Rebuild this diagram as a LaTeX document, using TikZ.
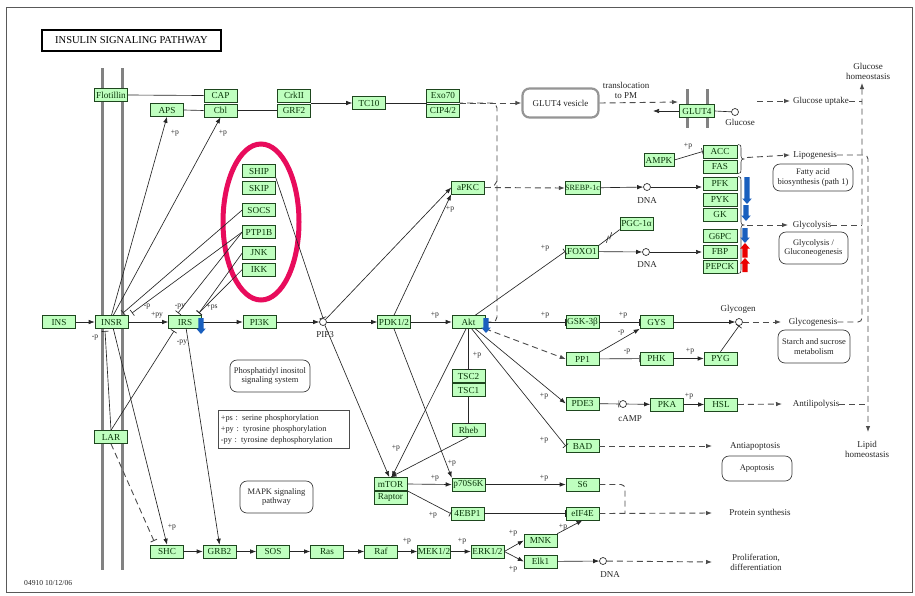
\documentclass[tikz,border=0pt]{standalone}
\usepackage{fontspec}
\setmainfont{Liberation Serif}
\usetikzlibrary{arrows.meta,calc}
\definecolor{kgfill}{RGB}{191,255,191}
\definecolor{kgline}{RGB}{30,70,30}
\definecolor{kgtext}{RGB}{10,55,10}
\definecolor{kgpink}{RGB}{232,12,92}
\definecolor{kgblue}{RGB}{25,95,190}
\definecolor{kgred}{RGB}{235,0,0}
\definecolor{kggray}{RGB}{130,130,130}
\newcommand{\kgG}{\fontsize{9.2}{10}\selectfont}
\newcommand{\kgS}{\fontsize{7.6}{8}\selectfont}
\newcommand{\kgT}{\fontsize{9}{10}\selectfont}
\newcommand{\kgM}{\fontsize{8.5}{9.8}\selectfont}
\newcommand{\kgFatDown}[3]{\fill[kgblue] (#1-2.6,#2) -- (#1+2.6,#2) -- (#1+2.6,#3-5.5) -- (#1+4.8,#3-5.5) -- (#1,#3) -- (#1-4.8,#3-5.5) -- (#1-2.6,#3-5.5) -- cycle;}
\newcommand{\kgFatUp}[3]{\fill[kgred] (#1,#2) -- (#1+4.8,#2+5.5) -- (#1+2.6,#2+5.5) -- (#1+2.6,#3) -- (#1-2.6,#3) -- (#1-2.6,#2+5.5) -- (#1-4.8,#2+5.5) -- cycle;}
\newcommand{\kgBrace}[3]{\draw[line width=0.6pt, black!80] (#1,#2) .. controls (#1+3,#2) and (#1+3,#2+1) .. (#1+3,#2+4) -- (#1+3,{(#2+#3)/2-3}) .. controls (#1+3,{(#2+#3)/2-1}) and (#1+4,{(#2+#3)/2}) .. (#1+6,{(#2+#3)/2}) .. controls (#1+4,{(#2+#3)/2}) and (#1+3,{(#2+#3)/2+1}) .. (#1+3,{(#2+#3)/2+3}) -- (#1+3,#3-4) .. controls (#1+3,#3-1) and (#1+3,#3) .. (#1,#3);}
\begin{document}
\begin{tikzpicture}[x=1pt,y=-1pt,
  gene/.style={draw=kgline, line width=0.6pt, fill=kgfill, text=kgtext, minimum width=33pt, minimum height=13pt, inner sep=0pt, font=\kgG},
  mapbox/.style={draw=black!75, line width=0.7pt, rounded corners=7pt, align=center, font=\kgM, inner sep=0pt, text=black!85},
  txt/.style={font=\kgT, align=center, inner sep=0pt, text=black!85},
  plab/.style={font=\kgS, inner sep=0pt, text=black!85},
  cpd/.style={circle, draw=black!80, line width=0.7pt, minimum size=7pt, inner sep=0pt, fill=white},
  ln/.style={draw=black!85, line width=0.65pt},
  act/.style={ln, -{Latex[length=6pt,width=4.5pt]}},
  inh/.style={ln, -{Bar[width=7pt]}},
  dsh/.style={draw=black!70, line width=0.9pt, dash pattern=on 6pt off 4pt},
  dact/.style={dsh, -{Latex[length=6pt,width=4.5pt]}},
  dinh/.style={dsh, -{Bar[width=7pt]}},
  memb/.style={draw=kggray, line width=3pt}]
\useasboundingbox (0,0) rectangle (915,595);
\fill[white] (0,0) rectangle (915,595);
\draw[black!65, line width=0.8pt] (6,7) rectangle (912,592);

% title
\node[draw=black, line width=1.3pt, minimum width=179pt, minimum height=21pt, inner sep=0pt, font=\fontsize{10.5}{11}\selectfont] (title) at (131.5,40.5) {INSULIN SIGNALING PATHWAY};

% membranes
\draw[memb] (102,68) -- (102,570);
\draw[memb] (122,68) -- (122,570);
\draw[memb] (687,89) -- (687,128);
\draw[memb] (707,89) -- (707,128);

% pink ellipse
\draw[kgpink, line width=5pt] (261,222) ellipse [x radius=38pt, y radius=78pt];

% genes
\node[gene] (flot) at (111,95) {Flotillin};
\node[gene] (aps) at (167,110) {APS};
\node[gene] (cap) at (220.5,95.5) {CAP};
\node[gene] (cbl) at (220.5,110.5) {Cbl};
\node[gene] (crk) at (294,95.5) {CrkII};
\node[gene] (grf) at (294,110.5) {GRF2};
\node[gene] (tc10) at (369,103) {TC10};
\node[gene] (exo) at (443,95.5) {Exo70};
\node[gene] (cip) at (443,110.5) {CIP4/2};
\node[gene, minimum width=35pt] (glut) at (697,111) {GLUT4};
\node[gene] (ship) at (259,171) {SHIP};
\node[gene] (skip) at (259,188) {SKIP};
\node[gene] (socs) at (259,210) {SOCS};
\node[gene] (ptp) at (259,232) {PTP1B};
\node[gene] (jnk) at (259,253) {JNK};
\node[gene] (ikk) at (259,269.5) {IKK};
\node[gene] (apkc) at (468,187.5) {aPKC};
\node[gene, font=\fontsize{8}{8.5}\selectfont] (srebp) at (582.5,188) {SREBP-1c};
\node[gene, minimum width=30pt] (ampk) at (659,160) {AMPK};
\node[gene, minimum width=34pt] (acc) at (720,151.5) {ACC};
\node[gene, minimum width=34pt] (fas) at (720,166.5) {FAS};
\node[gene, minimum width=34pt] (pfk) at (720,183.5) {PFK};
\node[gene, minimum width=34pt] (pyk) at (720,199.5) {PYK};
\node[gene, minimum width=34pt] (gk) at (720,214.5) {GK};
\node[gene, minimum width=34pt] (g6pc) at (720,236) {G6PC};
\node[gene, minimum width=34pt] (fbp) at (720,251.5) {FBP};
\node[gene, minimum width=34pt] (pepck) at (720,266.5) {PEPCK};
\node[gene] (pgc) at (636.5,223.5) {PGC-1α};
\node[gene] (foxo) at (582,251.5) {FOXO1};
\node[gene] (ins) at (59,322) {INS};
\node[gene] (insr) at (111.5,322) {INSR};
\node[gene] (irs) at (185,322) {IRS};
\node[gene] (pi3k) at (259.5,322) {PI3K};
\node[gene] (pdk) at (394,322) {PDK1/2};
\node[gene] (akt) at (468.5,322) {Akt};
\node[gene] (gsk) at (582.5,322) {GSK-3β};
\node[gene] (gys) at (656.5,322) {GYS};
\node[gene] (pp1) at (582.5,359) {PP1};
\node[gene] (phk) at (656.5,358.5) {PHK};
\node[gene] (pyg) at (720.5,358.5) {PYG};
\node[gene] (tsc2) at (468.5,376) {TSC2};
\node[gene] (tsc1) at (468.5,390) {TSC1};
\node[gene] (rheb) at (468.5,430) {Rheb};
\node[gene] (pde3) at (582.5,403.5) {PDE3};
\node[gene] (pka) at (667,404.5) {PKA};
\node[gene] (hsl) at (721,404.5) {HSL};
\node[gene] (bad) at (582.5,446) {BAD};
\node[gene] (lar) at (111,437) {LAR};
\node[gene] (mtor) at (390.5,484) {mTOR};
\node[gene] (raptor) at (390.5,497.5) {Raptor};
\node[gene] (p70) at (468.5,484.5) {p70S6K};
\node[gene] (s6) at (582.5,484.5) {S6};
\node[gene] (ebp) at (467.5,513.5) {4EBP1};
\node[gene] (eif) at (582.5,513.5) {eIF4E};
\node[gene] (shc) at (167,551.5) {SHC};
\node[gene] (grb) at (219.5,551.5) {GRB2};
\node[gene] (sos) at (273,551.5) {SOS};
\node[gene] (ras) at (327,551.5) {Ras};
\node[gene] (raf) at (381,551.5) {Raf};
\node[gene] (mek) at (434,551.5) {MEK1/2};
\node[gene] (erk) at (487.5,551.5) {ERK1/2};
\node[gene] (mnk) at (540.5,540.5) {MNK};
\node[gene] (elk) at (540.5,561.5) {Elk1};

% compounds
\node[cpd] (glc) at (735,112) {};
\node[cpd] (dna1) at (647,187) {};
\node[cpd] (dna2) at (646,252) {};
\node[cpd] (pip3) at (323,322) {};
\node[cpd] (glyc) at (739,322) {};
\node[cpd] (camp) at (623,404) {};
\node[cpd] (dna3) at (603,561) {};

% compound labels
\node[txt] (tglc) at (740,122) {Glucose};
\node[txt] (tdna1) at (647,201) {DNA};
\node[txt] (tdna2) at (647,265) {DNA};
\node[txt] (tpip3) at (325,335) {PIP3};
\node[txt] (tglyc) at (738,309) {Glycogen};
\node[txt] (tcamp) at (630,419) {cAMP};
\node[txt] (tdna3) at (610,575) {DNA};

% map boxes and outcome texts
\node[draw=kggray!85, line width=2.2pt, rounded corners=7pt, minimum width=76pt, minimum height=29pt, inner sep=0pt, font=\kgT, text=black!85] (vesicle) at (560.5,103) {GLUT4 vesicle};
\node[txt] (transl) at (626,90) {translocation\\to PM};
\node[txt] (glcup) at (821,101) {Glucose uptake};
\node[txt] (glchom) at (868,71) {Glucose\\homeostasis};
\node[txt] (lipo) at (815,155) {Lipogenesis};
\node[mapbox, minimum width=80pt, minimum height=27pt] (fabox) at (813,177.5) {Fatty acid\\biosynthesis (path 1)};
\node[txt] (glycl) at (812,225) {Glycolysis};
\node[mapbox, minimum width=69pt, minimum height=32pt] (ggbox) at (813.5,248) {Glycolysis /\\Gluconeogenesis};
\node[txt] (glycgs) at (813,322) {Glycogenesis};
\node[mapbox, minimum width=72pt, minimum height=33pt] (starch) at (814,346.5) {Starch and sucrose\\metabolism};
\node[txt] (antilip) at (816,404) {Antilipolysis};
\node[txt] (lipidhom) at (867,449) {Lipid\\homeostasis};
\node[txt] (antiapop) at (755,446) {Antiapoptosis};
\node[mapbox, minimum width=70pt, minimum height=25pt] (apop) at (757,468.5) {Apoptosis};
\node[txt] (protsyn) at (760,513) {Protein synthesis};
\node[txt] (prolif) at (756,562) {Proliferation,\\differentiation};
\node[mapbox, minimum width=80pt, minimum height=32pt] (pibox) at (270,376) {Phosphatidyl inositol\\signaling system};
\node[mapbox, minimum width=73pt, minimum height=32pt] (mapk) at (276.5,497) {MAPK signaling\\pathway};
\node[draw=black!70, line width=0.7pt, anchor=north west, minimum width=131pt, minimum height=38pt, inner sep=0pt, text width=126pt, align=left, font=\fontsize{8.3}{10.8}\selectfont, text=black!85] (legend) at (218,410) {+ps : serine phosphorylation\\+py : tyrosine phosphorylation\\-py : tyrosine dephosphorylation};
\node[anchor=west, font=\kgS, inner sep=0pt, text=black!85] (footer) at (24,583) {04910 10/12/06};

% free coordinates
\coordinate (iT1) at (123,313);
\coordinate (iT2) at (132,313);
\coordinate (rT1) at (178,313);
\coordinate (rT2) at (199,313);
\coordinate (iB) at (105,331);
\coordinate (rB) at (174,331);
\coordinate (shcB) at (154,541);
\coordinate (crkR) at (311,103);
\coordinate (exoL) at (426.5,103);
\coordinate (exoR) at (459.5,103);
\coordinate (vTop) at (497,103);
\coordinate (vBot) at (497,322);
\coordinate (gA) at (678,102);
\coordinate (gL) at (653,111);
\coordinate (guS) at (757,101);
\coordinate (guA) at (790,101);
\coordinate (gluX) at (862,101);
\coordinate (glcX) at (862,225);
\coordinate (glgX) at (862,322);
\coordinate (glcTop) at (862,83);
\coordinate (lipS) at (747,157.5);
\coordinate (lipA) at (790,155);
\coordinate (lipX) at (868,155);
\coordinate (lipBot) at (868,432);
\coordinate (alX) at (868,404);
\coordinate (gcS) at (747,225);
\coordinate (gcA) at (788,225);
\coordinate (gsA) at (781,322);
\coordinate (alA) at (782,404);
\coordinate (pfkA) at (702,187);
\coordinate (fbpA) at (702,252);
\coordinate (aaA) at (712,446);
\coordinate (psA) at (712,513);
\coordinate (s6X) at (625,484.5);
\coordinate (s6Y) at (625,513);
\coordinate (plA) at (712,562);

% top row
\draw[ln] (flot.east) -- (cap.west);
\draw[ln] (aps.east) -- (cbl.west);
\draw[ln] (cbl.east) -- (grf.west);
\draw[act] (crkR) -- (tc10.west);
\draw[ln] (tc10.east) -- (exoL);
\draw[dact] (exoR) -- (vesicle.west);
\draw[dsh, rounded corners=5pt] (akt.east) -- (vBot) -- (vTop) -- (exoR);
\draw[dsh, rounded corners=3pt] (apkc.east) -- (493,187.5) -- (497,181);
\draw[dact] (vesicle.east) -- (gA);
\draw[act] (glut.west) -- (gL);
\draw[ln] (glut.east) -- (glc);
\draw[dact] (guS) -- (guA);
\draw[dsh, rounded corners=4pt] (glcup.east) -- (gluX);
\draw[dact, rounded corners=4pt] (glycgs.east) -- (glgX) -- (glcTop);
\draw[dsh] (glycl.east) -- (glcX);
\draw[dact, rounded corners=4pt] (lipo.east) -- (lipX) -- (lipBot);
\draw[dsh] (antilip.east) -- (alX);

% receptor region
\draw[act] (ins) -- (insr);
\draw[act] (insr) -- (irs);
\draw[act] (irs) -- (pi3k);
\draw[act] (pi3k) -- (pip3);
\draw[act] (pip3) -- (pdk);
\draw[act] (pdk) -- (akt);
\draw[act] (insr.north) -- (aps.south);
\draw[act] (insr.75) -- (cbl.south);
\draw[inh] (socs.west) -- (iT1);
\draw[inh] (ptp.west) -- (iT2);
\draw[inh] (ptp.west) -- (rT1);
\draw[inh] (jnk.west) -- (rT2);
\draw[inh] (ikk.west) -- (rT2);
\draw[inh] (ship.south east) -- (pip3.north);
\draw[inh] (lar.north) -- (iB);
\draw[inh] (lar.north) -- (rB);
\draw[act] (insr.-75) -- (shc.north);
\draw[dinh] (lar.south) -- (shcB);
\draw[act] (irs.-80) -- (grb.north);
\draw[act] (shc) -- (grb);
\draw[act] (grb) -- (sos);
\draw[act] (sos) -- (ras);
\draw[act] (ras) -- (raf);
\draw[act] (raf) -- (mek);
\draw[act] (mek) -- (erk);
\draw[act] (erk.east) -- (mnk.west);
\draw[act] (erk.east) -- (elk.west);
\draw[act] (elk) -- (dna3);
\draw[dact] (dna3) -- (plA);

% PI3K / Akt branches
\draw[act] (pip3.north east) -- (apkc.west);
\draw[act] (pdk.north) -- (apkc.south west);
\draw[dact] (apkc.east) -- (srebp.west);
\draw[act] (srebp) -- (dna1);
\draw[act] (dna1) -- (pfkA);
\draw[inh] (akt.45) -- (foxo.west);
\draw[act] (foxo) -- (dna2);
\draw[act] (dna2) -- (fbpA);
\draw[ln] (foxo.20) -- (pgc.200);
\draw[ln] (606.4,242.7) -- (608.4,235.7);
\draw[ln] (609.6,239.4) -- (611.6,232.4);
\draw[inh] (ampk.east) -- (acc.west);
\draw[inh] (akt) -- (gsk);
\draw[inh] (gsk) -- (gys);
\draw[act] (gys) -- (glyc);
\draw[dact] (glyc) -- (gsA);
\draw[dact] (akt.south east) -- (pp1.west);
\draw[act] (pp1.north east) -- (gys.south west);
\draw[inh] (pp1) -- (phk);
\draw[act] (phk) -- (pyg);
\draw[inh] (pyg.north) -- (glyc.south);
\draw[inh] (akt.south) -- (tsc2.north);
\draw[inh] (tsc1.south) -- (rheb.north);
\draw[act] (rheb.south) -- (mtor.north);
\draw[act] (akt.-110) -- (mtor.80);
\draw[act] (pip3.-60) -- (mtor.100);
\draw[act] (pdk.south) -- (p70.north west);
\draw[act] (akt.-45) -- (pde3.west);
\draw[inh] (akt.-65) -- (bad.west);
\draw[inh] (pde3) -- (camp);
\draw[act] (camp) -- (pka);
\draw[act] (pka) -- (hsl);
\draw[dact] (hsl.east) -- (alA);
\draw[dact] (bad.east) -- (aaA);
\draw[act] (mtor.east) -- (p70.west);
\draw[inh] (mtor.south east) -- (ebp.west);
\draw[act] (p70) -- (s6);
\draw[inh] (ebp) -- (eif);
\draw[act] (mnk.north east) -- (eif.south);
\draw[dsh, rounded corners=4pt] (s6.east) -- (s6X) -- (s6Y);
\draw[dact] (eif.east) -- (psA);

% braces and expression arrows
\kgBrace{738}{144.5}{173.5}
\kgBrace{738}{176.5}{273.5}
\draw[dact] (lipS) -- (lipA);
\draw[dact] (gcS) -- (gcA);
\kgFatDown{747}{177}{204}
\kgFatDown{746}{205}{221}
\kgFatDown{745}{228}{243}
\kgFatUp{745}{243}{257.5}
\kgFatUp{745}{258}{272}
\kgFatDown{201}{318}{334}
\kgFatDown{486}{318}{333}

% modification labels
\node[plab] (m1) at (175,133) {+p};
\node[plab] (m2) at (223,133) {+p};
\node[plab] (m3) at (147,307) {-p};
\node[plab] (m4) at (157,315) {+py};
\node[plab] (m5) at (180,307) {-py};
\node[plab] (m6) at (212,307) {+ps};
\node[plab] (m7) at (95,338) {-p};
\node[plab] (m8) at (182,343) {-py};
\node[plab] (m9) at (450,209) {+p};
\node[plab] (m10) at (435,315) {+p};
\node[plab] (m11) at (545,315) {+p};
\node[plab] (m12) at (623,315) {+p};
\node[plab] (m13) at (545,248) {+p};
\node[plab] (m14) at (688,146) {+p};
\node[plab] (m15) at (621,333) {-p};
\node[plab] (m16) at (627,352) {-p};
\node[plab] (m17) at (690,351) {+p};
\node[plab] (m18) at (477,355) {+p};
\node[plab] (m19) at (544,396) {+p};
\node[plab] (m20) at (544,440) {+p};
\node[plab] (m21) at (396,448) {+p};
\node[plab] (m22) at (452,463) {+p};
\node[plab] (m23) at (435,478) {+p};
\node[plab] (m24) at (433,515) {+p};
\node[plab] (m25) at (544,478) {+p};
\node[plab] (m26) at (563,527) {+p};
\node[plab] (m27) at (513,533) {+p};
\node[plab] (m28) at (513,569) {+p};
\node[plab] (m29) at (407,541) {+p};
\node[plab] (m30) at (462,541) {+p};
\node[plab] (m31) at (689,396) {+p};
\node[plab] (m32) at (172,527) {+p};
\end{tikzpicture}
\end{document}
